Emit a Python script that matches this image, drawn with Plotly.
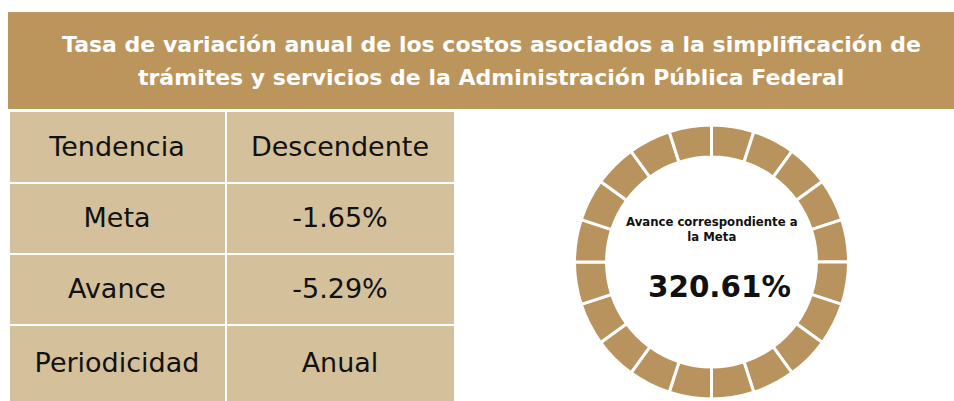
import plotly.graph_objects as go

# ---- data ----
title_lines = [
    "Tasa de variación anual de los costos asociados a la simplificación de",
    "trámites y servicios de la Administración Pública Federal",
]
row_labels = ["Tendencia", "Meta", "Avance", "Periodicidad"]
row_values = ["Descendente", "-1.65%", "-5.29%", "Anual"]
ring_segments = [1] * 20
center_label = "Avance correspondiente a<br>la Meta"
avance_meta = 320.61

GOLD = "#BC955C"
RING = "#B8935E"
CELL = "#D4C19C"
W, H = 954, 401

fig = go.Figure()

# table as heatmap bricks
col_edges = [9, 225.5, 455]
row_edges = [111, 182.5, 253.5, 324.5, 402]
z = [[1, 1] for _ in row_labels]
text = [[a, b] for a, b in zip(row_labels, row_values)]
fig.add_trace(go.Heatmap(
    x=col_edges, y=row_edges, z=z, text=text, texttemplate="%{text}",
    textfont=dict(family="DejaVu Sans", size=27, color="#111111"),
    colorscale=[[0, CELL], [1, CELL]], showscale=False, xgap=2, ygap=2,
    hoverinfo="skip",
))

# ring
cx, cy, r = 711.5, 262, 137
fig.add_trace(go.Pie(
    values=ring_segments, hole=0.766, sort=False, direction="clockwise",
    rotation=0, textinfo="none", hoverinfo="skip", showlegend=False,
    marker=dict(colors=[RING] * len(ring_segments), line=dict(color="white", width=3)),
    domain=dict(x=[(cx - r) / W, (cx + r) / W],
                y=[(H - cy - r) / H, (H - cy + r) / H]),
))

fig.add_shape(type="rect", xref="x", yref="y", x0=8, x1=W + 5, y0=12, y1=109,
              fillcolor=GOLD, line_width=0, layer="below")

anns = []
for i, line in enumerate(title_lines):
    anns.append(dict(x=491, y=44 + 33 * i, xref="x", yref="y", text="<b>" + line + "</b>",
                     showarrow=False, font=dict(family="DejaVu Sans", size=22, color="white"),
                     xanchor="center", yanchor="middle"))
anns.append(dict(x=711.5, y=229, xref="x", yref="y", text="<b>" + center_label + "</b>",
                 showarrow=False, font=dict(family="DejaVu Sans", size=11.7, color="#111111"),
                 xanchor="center", yanchor="middle"))
anns.append(dict(x=719, y=287, xref="x", yref="y", text="<b>%.2f%%</b>" % avance_meta,
                 showarrow=False, font=dict(family="DejaVu Sans", size=29.4, color="#111111"),
                 xanchor="center", yanchor="middle"))

fig.update_layout(
    width=W, height=H, margin=dict(l=0, r=0, t=0, b=0, autoexpand=False),
    paper_bgcolor="white", plot_bgcolor="white",
    xaxis=dict(range=[0, W], visible=False, domain=[0, 1], fixedrange=True),
    yaxis=dict(range=[H, 0], visible=False, domain=[0, 1], fixedrange=True),
    annotations=anns, showlegend=False,
)
fig.write_html(
    "out.html",
    config={"displayModeBar": False},
    post_script="document.body.style.margin='0';document.body.style.overflow='hidden';",
)
